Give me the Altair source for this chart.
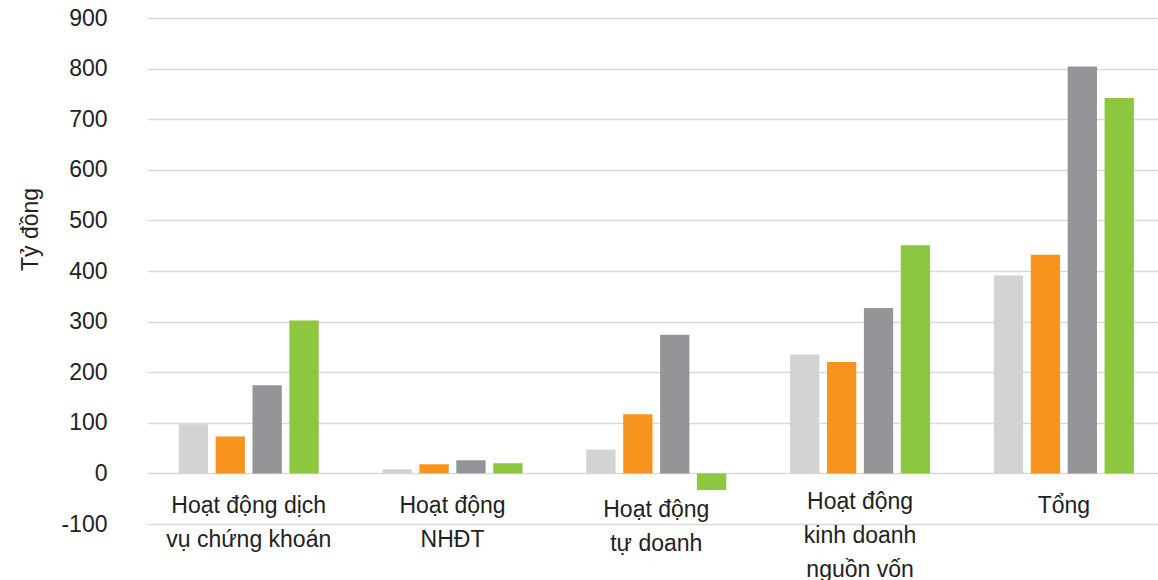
import altair as alt
import pandas as pd

# Category labels, one list of lines per group
category_lines = [
    ["Hoạt động dịch", "vụ chứng khoán"],
    ["Hoạt động", "NHĐT"],
    ["Hoạt động", "tự doanh"],
    ["Hoạt động", "kinh doanh", "nguồn vốn"],
    ["Tổng"],
]
categories = ["|".join(lines) for lines in category_lines]

series = ["Kỳ 1", "Kỳ 2", "Kỳ 3", "Kỳ 4"]
colors = ["#d1d3d4", "#f7941d", "#939598", "#8dc63f"]

# Values in tỷ đồng, one list per series (same order as categories)
values_ky1 = [97, 8, 47, 235, 391]
values_ky2 = [73, 18, 117, 220, 432]
values_ky3 = [174, 26, 274, 327, 804]
values_ky4 = [302, 20, -33, 451, 742]

y_ticks = list(range(-100, 901, 100))

rows = []
for name, vals in zip(series, [values_ky1, values_ky2, values_ky3, values_ky4]):
    for cat, v in zip(categories, vals):
        rows.append({"category": cat, "series": name, "value": v})
df = pd.DataFrame(rows)

font = "Liberation Sans"
text_color = "#222222"

# per-label vertical nudge: "tự doanh" sits a little lower, the three-line label a little higher
label_padding = {
    "condition": [
        {"test": "indexof(datum.value, 'tự doanh') >= 0", "value": 6},
        {"test": "indexof(datum.value, 'nguồn vốn') >= 0", "value": -2},
    ],
    "value": 2,
}

chart = (
    alt.Chart(df)
    .mark_bar()
    .encode(
        x=alt.X(
            "category:N",
            sort=categories,
            scale=alt.Scale(paddingInner=0.313, paddingOuter=0.137, align=0.568),
            axis=alt.Axis(
                title=None,
                labelExpr="split(datum.label, '|')",
                labelAngle=0,
                labelAlign="center",
                labelBaseline="top",
                labelLineHeight=34,
                labelFontSize=23,
                labelFont=font,
                labelColor=text_color,
                labelLimit=400,
                labelPadding=label_padding,
                domain=False,
                ticks=False,
                tickSize=0,
                offset=-32,
            ),
        ),
        xOffset=alt.XOffset(
            "series:N",
            sort=series,
            scale=alt.Scale(paddingInner=0.206, paddingOuter=0),
        ),
        y=alt.Y(
            "value:Q",
            scale=alt.Scale(domain=[-100, 900], nice=False, zero=False),
            axis=alt.Axis(
                values=y_ticks,
                labelExpr="'' + datum.value",
                title="Tỷ đồng",
                titleFont=font,
                titleFontSize=23,
                titleFontWeight="normal",
                titleColor=text_color,
                titleAngle=270,
                titleAlign="center",
                titleBaseline="middle",
                titleX=-117,
                titleY=211,
                labelFont=font,
                labelFontSize=23,
                labelColor=text_color,
                labelPadding=40,
                domain=False,
                ticks=False,
                grid=True,
                gridColor="#d9d9d9",
                gridWidth=1.3,
            ),
        ),
        color=alt.Color(
            "series:N",
            sort=series,
            scale=alt.Scale(domain=series, range=colors),
            legend=None,
        ),
    )
    .properties(
        width=1011,
        height=506,
        autosize=alt.AutoSizeParams(type="none"),
        padding={"left": 147, "top": 18, "right": 0, "bottom": 56},
    )
    .configure_view(stroke=None)
)

chart.save("out.html", embed_options={"renderer": "svg", "actions": False})
